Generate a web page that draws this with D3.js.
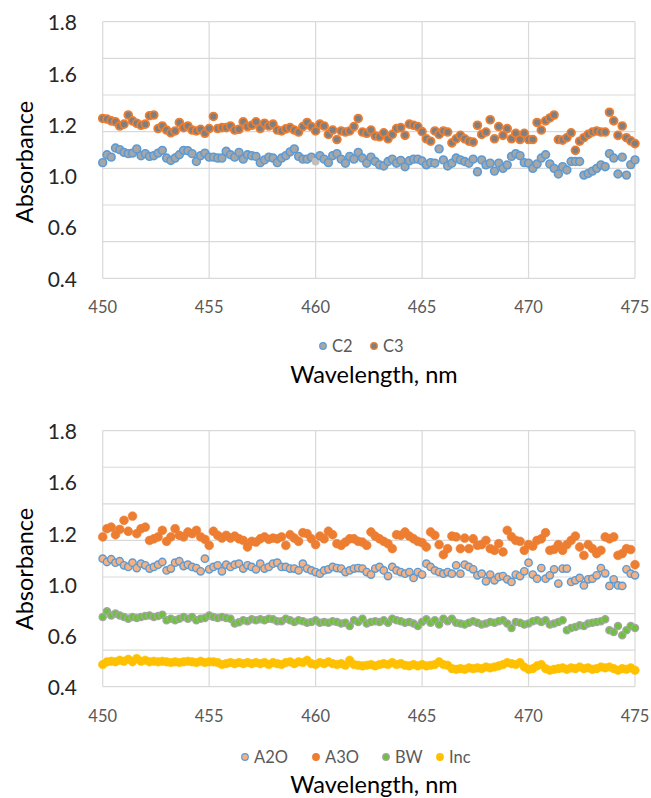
<!DOCTYPE html>
<html>
<head>
<meta charset="utf-8">
<script src="https://cdn.jsdelivr.net/npm/d3@7/dist/d3.min.js"></script>
<style>
  html, body { margin: 0; padding: 0; background: #ffffff; }
  svg { display: block; }
  text { font-family: Lato, "Open Sans", "DejaVu Sans", sans-serif; }
</style>
</head>
<body>
<svg id="chart" width="651" height="798"></svg>
<script>
// Absorbance spectra, 450–475 nm, sampled every 0.2 nm
const wavelengths = d3.range(126).map(i => +(450 + 0.2 * i).toFixed(1));

const xTicks = [450, 455, 460, 465, 470, 475];
const gridValues = [0.4, 0.6, 0.8, 1.0, 1.2, 1.4, 1.6, 1.8];
const yTickLabels = ["1.8", "1.6", "1.2", "1.0", "0.6", "0.4"];

// Upper panel series
const C2 = [
  1.031, 1.074, 1.061, 1.111, 1.102, 1.087, 1.080, 1.083, 1.106, 1.069,
  1.080, 1.065, 1.069, 1.083, 1.098, 1.056, 1.043, 1.056, 1.074, 1.098,
  1.096, 1.080, 1.037, 1.069, 1.083, 1.061, 1.061, 1.056, 1.056, 1.093,
  1.074, 1.061, 1.087, 1.050, 1.074, 1.069, 1.065, 1.031, 1.046, 1.061,
  1.056, 1.031, 1.056, 1.069, 1.090, 1.106, 1.065, 1.050, 1.050, 1.061,
  1.037, 1.069, 1.050, 1.031, 1.069, 1.080, 1.050, 1.028, 1.065, 1.050,
  1.087, 1.056, 1.028, 1.061, 1.037, 1.019, 1.013, 1.037, 1.050, 1.028,
  1.043, 1.009, 1.041, 1.050, 1.050, 1.040, 1.019, 1.031, 1.028, 1.106,
  1.046, 1.013, 1.028, 1.056, 1.046, 1.037, 1.028, 1.050, 0.981, 1.046,
  1.019, 1.028, 0.985, 1.028, 1.000, 1.019, 1.065, 1.080, 1.069, 1.031,
  1.028, 1.000, 1.024, 1.056, 1.074, 1.024, 1.000, 0.969, 1.009, 0.991,
  1.037, 1.037, 1.037, 0.963, 0.972, 0.985, 1.000, 1.019, 1.009, 1.080,
  1.056, 0.969, 1.061, 0.963, 1.020, 1.046
];
const C2_selected = 50; // the 460 nm point is shown in a lighter, unbordered style

const C3 = [
  1.272, 1.269, 1.259, 1.254, 1.231, 1.241, 1.291, 1.259, 1.246, 1.235,
  1.241, 1.287, 1.291, 1.217, 1.231, 1.209, 1.194, 1.204, 1.250, 1.222,
  1.231, 1.209, 1.204, 1.213, 1.191, 1.217, 1.283, 1.217, 1.222, 1.222,
  1.231, 1.209, 1.213, 1.254, 1.228, 1.235, 1.254, 1.217, 1.246, 1.231,
  1.241, 1.209, 1.204, 1.215, 1.222, 1.209, 1.198, 1.228, 1.250, 1.228,
  1.204, 1.241, 1.231, 1.185, 1.209, 1.157, 1.204, 1.198, 1.204, 1.228,
  1.272, 1.198, 1.191, 1.209, 1.176, 1.172, 1.194, 1.161, 1.185, 1.217,
  1.222, 1.180, 1.241, 1.235, 1.228, 1.200, 1.161, 1.148, 1.204, 1.185,
  1.204, 1.198, 1.139, 1.161, 1.180, 1.161, 1.148, 1.143, 1.235, 1.185,
  1.198, 1.265, 1.161, 1.228, 1.180, 1.217, 1.161, 1.191, 1.157, 1.191,
  1.157, 1.157, 1.250, 1.209, 1.259, 1.275, 1.291, 1.157, 1.154, 1.167,
  1.194, 1.098, 1.148, 1.167, 1.185, 1.198, 1.204, 1.198, 1.198, 1.306,
  1.259, 1.180, 1.231, 1.167, 1.150, 1.135
];

// Lower panel series
const A2O = [
  1.100, 1.082, 1.097, 1.078, 1.086, 1.064, 1.055, 1.078, 1.049, 1.073,
  1.064, 1.046, 1.055, 1.067, 1.082, 1.036, 1.046, 1.078, 1.086, 1.060,
  1.067, 1.055, 1.049, 1.031, 1.100, 1.042, 1.055, 1.064, 1.031, 1.067,
  1.055, 1.067, 1.073, 1.046, 1.064, 1.055, 1.042, 1.073, 1.046, 1.055,
  1.073, 1.078, 1.055, 1.055, 1.046, 1.046, 1.036, 1.073, 1.046, 1.036,
  1.027, 1.018, 1.036, 1.042, 1.055, 1.049, 1.046, 1.027, 1.036, 1.046,
  1.049, 1.046, 1.027, 1.013, 1.046, 1.055, 1.036, 1.005, 1.055, 1.036,
  1.027, 1.018, 1.027, 0.995, 1.027, 1.013, 1.073, 1.055, 1.036, 1.027,
  1.018, 1.027, 1.018, 1.064, 1.018, 1.067, 1.055, 1.042, 1.009, 1.018,
  0.976, 1.013, 0.982, 1.000, 1.005, 0.987, 0.973, 1.013, 1.005, 1.031,
  1.078, 1.013, 0.991, 1.049, 0.991, 1.009, 1.042, 0.964, 1.046, 1.046,
  0.973, 0.982, 0.995, 0.954, 0.987, 0.991, 1.009, 1.049, 1.020, 0.951,
  0.987, 0.954, 0.951, 1.042, 1.018, 1.009
];

const A3O = [
  1.219, 1.264, 1.273, 1.231, 1.260, 1.310, 1.250, 1.333, 1.237, 1.264,
  1.273, 1.200, 1.209, 1.219, 1.255, 1.195, 1.219, 1.264, 1.228, 1.219,
  1.246, 1.237, 1.255, 1.219, 1.206, 1.173, 1.250, 1.228, 1.213, 1.228,
  1.213, 1.224, 1.209, 1.200, 1.164, 1.195, 1.191, 1.209, 1.219, 1.206,
  1.213, 1.209, 1.219, 1.173, 1.231, 1.213, 1.195, 1.242, 1.237, 1.209,
  1.177, 1.224, 1.209, 1.250, 1.231, 1.182, 1.173, 1.191, 1.209, 1.209,
  1.195, 1.191, 1.173, 1.246, 1.224, 1.209, 1.195, 1.182, 1.155, 1.231,
  1.228, 1.246, 1.224, 1.209, 1.195, 1.188, 1.164, 1.246, 1.228, 1.177,
  1.122, 1.155, 1.224, 1.219, 1.155, 1.213, 1.155, 1.209, 1.173, 1.177,
  1.200, 1.155, 1.146, 1.182, 1.137, 1.255, 1.220, 1.200, 1.195, 1.146,
  1.177, 1.169, 1.200, 1.209, 1.242, 1.146, 1.151, 1.177, 1.146, 1.177,
  1.200, 1.224, 1.164, 1.118, 1.177, 1.155, 1.128, 1.146, 1.219, 1.209,
  1.219, 1.118, 1.128, 1.155, 1.150, 1.067
];

const BW = [
  0.781, 0.812, 0.790, 0.800, 0.790, 0.781, 0.772, 0.781, 0.776, 0.781,
  0.787, 0.790, 0.781, 0.787, 0.794, 0.763, 0.772, 0.763, 0.772, 0.781,
  0.772, 0.781, 0.763, 0.772, 0.776, 0.790, 0.781, 0.776, 0.781, 0.776,
  0.772, 0.745, 0.752, 0.763, 0.758, 0.769, 0.763, 0.769, 0.763, 0.772,
  0.769, 0.758, 0.758, 0.772, 0.763, 0.754, 0.763, 0.758, 0.750, 0.754,
  0.763, 0.750, 0.754, 0.750, 0.758, 0.754, 0.745, 0.750, 0.732, 0.763,
  0.754, 0.772, 0.745, 0.754, 0.758, 0.754, 0.763, 0.750, 0.772, 0.763,
  0.758, 0.750, 0.754, 0.745, 0.732, 0.754, 0.769, 0.750, 0.763, 0.740,
  0.772, 0.758, 0.772, 0.750, 0.745, 0.740, 0.750, 0.758, 0.750, 0.740,
  0.745, 0.754, 0.750, 0.758, 0.763, 0.745, 0.721, 0.754, 0.750, 0.740,
  0.745, 0.758, 0.763, 0.754, 0.763, 0.740, 0.745, 0.754, 0.763, 0.709,
  0.721, 0.727, 0.736, 0.732, 0.745, 0.750, 0.754, 0.758, 0.769, 0.709,
  0.699, 0.732, 0.681, 0.709, 0.732, 0.721
];

const Inc = [
  0.521, 0.536, 0.539, 0.536, 0.545, 0.539, 0.550, 0.536, 0.554, 0.539,
  0.545, 0.536, 0.539, 0.536, 0.539, 0.536, 0.532, 0.536, 0.532, 0.536,
  0.539, 0.536, 0.532, 0.539, 0.532, 0.536, 0.536, 0.532, 0.521, 0.526,
  0.532, 0.526, 0.532, 0.526, 0.532, 0.526, 0.532, 0.526, 0.532, 0.521,
  0.532, 0.526, 0.521, 0.532, 0.536, 0.526, 0.536, 0.532, 0.545, 0.526,
  0.521, 0.532, 0.526, 0.536, 0.526, 0.521, 0.526, 0.517, 0.545, 0.521,
  0.517, 0.514, 0.517, 0.521, 0.514, 0.521, 0.526, 0.521, 0.532, 0.521,
  0.526, 0.517, 0.514, 0.521, 0.514, 0.521, 0.514, 0.517, 0.521, 0.536,
  0.521, 0.517, 0.499, 0.495, 0.499, 0.495, 0.503, 0.499, 0.503, 0.499,
  0.508, 0.503, 0.508, 0.514, 0.521, 0.532, 0.526, 0.521, 0.532, 0.508,
  0.495, 0.499, 0.514, 0.521, 0.499, 0.490, 0.495, 0.499, 0.503, 0.495,
  0.503, 0.499, 0.508, 0.499, 0.503, 0.495, 0.499, 0.508, 0.503, 0.508,
  0.499, 0.490, 0.499, 0.495, 0.503, 0.490
];

// Marker styles per series
const styles = {
  C2:  { fill: "#a6a6a6", stroke: "#5b9bd5", r: 3.9, sw: 1.6 },
  C3:  { fill: "#7f7f7f", stroke: "#ed7d31", r: 3.9, sw: 1.8 },
  A2O: { fill: "#f4b183", stroke: "#5b9bd5", r: 3.7, sw: 1.4 },
  A3O: { fill: "#ed7d31", stroke: "#ed7d31", r: 4.4, sw: 0.6 },
  BW:  { fill: "#70c040", stroke: "#a5a5a5", r: 3.6, sw: 1.3 },
  Inc: { fill: "#ffc000", stroke: "#ffc000", r: 4.3, sw: 0.5 }
};

const panels = [
  {
    top: 21.7, bottom: 278.3, tickY: 307, titleY: 374, legendY: 346, yTitleY: 162,
    series: [{ name: "C2", values: C2 }, { name: "C3", values: C3 }],
    legendX: [323, 374]
  },
  {
    top: 430.7, bottom: 686.7, tickY: 716, titleY: 784, legendY: 757, yTitleY: 569,
    series: [{ name: "A2O", values: A2O }, { name: "A3O", values: A3O },
             { name: "BW", values: BW }, { name: "Inc", values: Inc }],
    legendX: [245, 316, 386, 440]
  }
];

const left = 102.7, right = 635;
const svg = d3.select("#chart");
const x = d3.scaleLinear().domain([450, 475]).range([left, right]);

panels.forEach(p => {
  const y = d3.scaleLinear().domain([0.4, 1.8]).range([p.bottom, p.top]);
  const yLab = d3.scalePoint().domain(yTickLabels).range([p.top, p.bottom]);
  const g = svg.append("g");

  // gridlines
  g.append("g").selectAll("line.h").data(gridValues).join("line")
    .attr("x1", left).attr("x2", right)
    .attr("y1", d => y(d)).attr("y2", d => y(d))
    .attr("stroke", "#d9d9d9").attr("stroke-width", 1.2);
  g.append("g").selectAll("line.v").data(xTicks).join("line")
    .attr("y1", p.top).attr("y2", p.bottom)
    .attr("x1", d => x(d)).attr("x2", d => x(d))
    .attr("stroke", "#d9d9d9").attr("stroke-width", 1.2);

  // y tick labels
  g.append("g").selectAll("text").data(yTickLabels).join("text")
    .attr("x", 77).attr("y", d => yLab(d))
    .attr("text-anchor", "end").attr("dominant-baseline", "central")
    .attr("font-size", 21).attr("fill", "#262626")
    .text(d => d);

  // x tick labels
  g.append("g").selectAll("text").data(xTicks).join("text")
    .attr("x", d => x(d)).attr("y", p.tickY)
    .attr("text-anchor", "middle").attr("dominant-baseline", "central")
    .attr("font-size", 16.5).attr("fill", "#595959")
    .text(d => d);

  // axis titles
  g.append("text")
    .attr("transform", `translate(24,${p.yTitleY}) rotate(-90)`)
    .attr("text-anchor", "middle").attr("dominant-baseline", "central")
    .attr("font-size", 23.5).attr("fill", "#000")
    .text("Absorbance");
  g.append("text")
    .attr("x", 374).attr("y", p.titleY)
    .attr("text-anchor", "middle").attr("dominant-baseline", "central")
    .attr("font-size", 23.5).attr("fill", "#000")
    .text("Wavelength, nm");

  // markers
  p.series.forEach(s => {
    const st = styles[s.name];
    g.append("g").selectAll("circle").data(s.values).join("circle")
      .attr("cx", (d, i) => x(wavelengths[i]))
      .attr("cy", d => y(d))
      .attr("r", st.r)
      .attr("fill", (d, i) => (s.name === "C2" && i === C2_selected) ? "#bfbfbf" : st.fill)
      .attr("stroke", (d, i) => (s.name === "C2" && i === C2_selected) ? "none" : st.stroke)
      .attr("stroke-width", st.sw);
  });

  // legend
  const lg = g.append("g");
  p.series.forEach((s, k) => {
    const st = styles[s.name];
    lg.append("circle")
      .attr("cx", p.legendX[k]).attr("cy", p.legendY)
      .attr("r", 3.3).attr("fill", st.fill)
      .attr("stroke", st.stroke).attr("stroke-width", 1.2);
    lg.append("text")
      .attr("x", p.legendX[k] + 9).attr("y", p.legendY)
      .attr("dominant-baseline", "central")
      .attr("font-size", 16.5).attr("fill", "#595959")
      .text(s.name);
  });
});
</script>
</body>
</html>
